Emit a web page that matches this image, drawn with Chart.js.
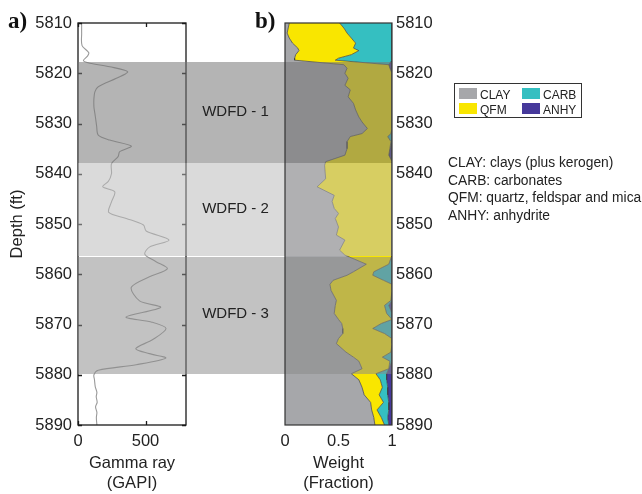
<!DOCTYPE html>
<html>
<head>
<meta charset="utf-8">
<script src="https://cdn.jsdelivr.net/npm/chart.js@4.4.1/dist/chart.umd.min.js"></script>
<style>
body{margin:0;background:#fff;}
#wrap{position:relative;width:642px;height:494px;background:#fff;font-family:"Liberation Sans",Arial,sans-serif;color:#222;overflow:hidden;}
#wrap canvas{position:absolute;left:0;top:0;}
.tag{position:absolute;top:9px;font-family:"Liberation Serif","Times New Roman",serif;font-weight:bold;font-size:23px;line-height:23px;color:#111;}
#legend{position:absolute;left:454px;top:83px;width:128px;height:35px;border:1px solid #333;box-sizing:border-box;font-size:12px;line-height:12px;background:#fff;}
#legend .sw{position:absolute;width:18px;height:11px;}
#legend .tx{position:absolute;}
#notes{position:absolute;left:448px;top:154px;font-size:13.8px;line-height:17.6px;}
</style>
</head>
<body>
<div id="wrap">
  <canvas id="gr" width="642" height="494"></canvas>
  <canvas id="min" width="642" height="494"></canvas>
  <div class="tag" style="left:8px">a)</div>
  <div class="tag" style="left:255px">b)</div>
  <div id="legend"></div>
  <div id="notes">
    CLAY: clays (plus kerogen)<br>
    CARB: carbonates<br>
    QFM: quartz, feldspar and mica<br>
    ANHY: anhydrite
  </div>
</div>
<script>
// ----------------- Data -----------------
// gamma ray log (GAPI) against depth (ft)
const grDepth=[5810,5812,5814.5,5815.9,5816.6,5817.5,5818,5818.7,5819.7,5821,5822.7,5823.7,5825,5826.7,5828,5829.3,5830.5,5832.3,5833.3,5834.5,5835.6,5836.6,5838,5840,5841.5,5842.6,5843.6,5845.6,5847.7,5848.9,5850.2,5851.4,5853.2,5854.6,5856,5857.5,5858.9,5860.5,5862.6,5865.3,5866.6,5868.5,5869.5,5870.8,5873,5874.8,5875.8,5876.7,5878,5879.1,5880,5881,5882.4,5883.5,5884.4,5885.5,5886.4,5887.5,5888.5,5890];
const grValue=[27,27,30,80,70,40,88,235,368,284,150,125,118,118,125,132,138,150,235,395,309,297,248,248,225,183,272,248,228,358,485,505,674,529,495,578,662,529,395,456,612,356,542,652,554,428,529,650,431,150,118,122,128,140,135,142,130,140,136,140];
const grTicks=[0,500];

// mineral weights (fraction) against depth (ft)
const minDepth=[5810,5811,5812,5813,5814,5815,5815.5,5816.3,5817,5817.4,5818.3,5819,5820,5821,5822.4,5823.3,5824.7,5826,5827.3,5828.7,5829.7,5831,5832,5832.6,5833.6,5835,5836.3,5837.6,5838.3,5841,5842.6,5844.3,5845.5,5846.9,5847.9,5848.9,5850.6,5852.2,5853.2,5855.2,5856.2,5858,5859.5,5860.2,5861.2,5862,5863.2,5865.2,5866.2,5867.8,5869,5869.8,5870.8,5871.8,5872.8,5873.8,5875.5,5876.5,5877.3,5878.8,5879.8,5881,5882.5,5884,5885.5,5887,5888.5,5890];
const clay=[0.04,0.03,0.02,0.04,0.07,0.12,0.13,0.10,0.09,0.09,0.55,0.58,0.56,0.59,0.56,0.61,0.59,0.64,0.66,0.69,0.72,0.77,0.72,0.61,0.58,0.58,0.56,0.38,0.37,0.38,0.30,0.46,0.44,0.46,0.50,0.47,0.50,0.48,0.56,0.51,0.56,0.76,0.64,0.58,0.45,0.42,0.43,0.48,0.47,0.46,0.50,0.53,0.54,0.54,0.50,0.48,0.57,0.64,0.69,0.72,0.62,0.69,0.72,0.74,0.80,0.81,0.83,0.84];
const qfm=[0.47,0.52,0.56,0.58,0.59,0.52,0.56,0.52,0.41,0.38,0.42,0.40,0.44,0.41,0.44,0.39,0.41,0.36,0.34,0.31,0.28,0.23,0.27,0.35,0.41,0.40,0.41,0.62,0.63,0.62,0.70,0.54,0.56,0.54,0.50,0.53,0.50,0.52,0.44,0.49,0.44,0.21,0.19,0.24,0.47,0.58,0.57,0.51,0.46,0.49,0.50,0.37,0.28,0.39,0.50,0.52,0.42,0.27,0.29,0.25,0.23,0.20,0.19,0.14,0.12,0.05,0.07,0.09];
const carb=[0.49,0.45,0.42,0.38,0.34,0.36,0.31,0.38,0.50,0.53,0,0,0,0,0,0,0,0,0,0,0,0,0.01,0.04,0.01,0,0,0,0,0,0,0,0,0,0,0,0,0,0,0,0,0.03,0.17,0.18,0.08,0,0,0.01,0.04,0.05,0,0.10,0.18,0.07,0,0,0.01,0.09,0.02,0,0.10,0.06,0.05,0.08,0.05,0.11,0.06,0.04];
const anhy=[0,0,0,0,0,0,0,0,0,0,0.03,0.02,0,0,0,0,0,0,0,0,0,0,0,0,0,0.02,0.03,0,0,0,0,0,0,0,0,0,0,0,0,0,0,0,0,0,0,0,0,0,0.03,0,0,0,0,0,0,0,0,0,0,0.03,0.05,0.05,0.04,0.04,0.03,0.03,0.04,0.03];
const minTicks=[0,0.5,1];

// WDFD intervals (ft)
const bandNames=["WDFD - 1","WDFD - 2","WDFD - 3"];
const bandTop=[5817.8,5837.9,5856.5];
const bandBase=[5837.9,5856.3,5879.8];
const bandColors=["rgba(118,118,118,0.55)","rgba(185,185,185,0.53)","rgba(138,138,138,0.52)"];

const depthTicks=[5810,5890,10];

const minNames=["CLAY","QFM","CARB","ANHY"];
const minColors=["#a6a7aa","#f9e600","#35bfc1","#46399b"];

// ----------------- Shared bits -----------------
const FONT="'Liberation Sans', Arial, sans-serif";
const tickFont={family:FONT,size:16.5};
const txt="#222";

// box + inward tick marks like the original plotting tool
const frame={
  id:"frame",
  afterDatasetsDraw(c,args,o){
    const a=c.chartArea, ctx=c.ctx;
    ctx.save();
    ctx.strokeStyle=o.color||"#222";
    ctx.lineWidth=o.width||1.2;
    if(o.ticks){
      const len=4;
      c.scales.y.ticks.forEach(t=>{
        const py=Math.round(c.scales.y.getPixelForValue(t.value))+0.5;
        ctx.beginPath();
        ctx.moveTo(a.left,py);ctx.lineTo(a.left+len,py);
        ctx.moveTo(a.right,py);ctx.lineTo(a.right-len,py);
        ctx.stroke();
      });
      c.scales.x.ticks.forEach(t=>{
        const px=Math.round(c.scales.x.getPixelForValue(t.value))+0.5;
        ctx.beginPath();
        ctx.moveTo(px,a.top);ctx.lineTo(px,a.top+len);
        ctx.moveTo(px,a.bottom);ctx.lineTo(px,a.bottom-len);
        ctx.stroke();
      });
    }
    ctx.strokeRect(a.left,a.top,a.right-a.left,a.bottom-a.top);
    ctx.restore();
  }
};

function depthScale(pos,pad){
  return {
    type:"linear",position:pos,reverse:true,min:depthTicks[0],max:depthTicks[1],
    grid:{display:false,drawTicks:false},border:{display:false},
    ticks:{stepSize:depthTicks[2],padding:pad,font:tickFont,color:txt,callback:v=>String(v)}
  };
}

// ----------------- a) Gamma ray -----------------
const grY=depthScale("left",6);
grY.title={display:true,text:"Depth (ft)",font:{family:FONT,size:16.5},color:txt,padding:{top:4,bottom:4}};
grY.afterFit=s=>{s.width=74;};

const leftChart=new Chart(document.getElementById("gr"),{
  type:"line",
  data:{datasets:[{
    data:grDepth.map((d,i)=>({x:grValue[i],y:d})),
    borderColor:"#9a9a9a",borderWidth:1.1,pointRadius:0,tension:0.3,fill:false
  }]},
  options:{
    indexAxis:"y",responsive:false,animation:false,
    layout:{padding:{left:4,top:23,right:456,bottom:0}},
    plugins:{legend:{display:false},tooltip:{enabled:false},frame:{ticks:true,color:"#1a1a1a",width:1.3}},
    scales:{
      y:grY,
      x:{
        type:"linear",min:0,max:800,
        grid:{display:false,drawTicks:false},border:{display:false},
        afterBuildTicks:s=>{s.ticks=grTicks.map(v=>({value:v}));},
        ticks:{padding:7,font:tickFont,color:txt,callback:v=>String(v)},
        title:{display:true,text:["Gamma ray","(GAPI)"],font:{family:FONT,size:16.5},color:txt,padding:{top:4,bottom:1}},
        afterFit:s=>{s.height=69;}
      }
    }
  },
  plugins:[frame]
});

// ----------------- b) Mineral weights -----------------
const bands={
  id:"bands",
  afterDatasetsDraw(c){
    const y=c.scales.y, ctx=c.ctx, la=leftChart.chartArea, a=c.chartArea;
    ctx.save();
    bandTop.forEach((t,i)=>{
      const y0=y.getPixelForValue(t), y1=y.getPixelForValue(bandBase[i]);
      ctx.fillStyle=bandColors[i];
      ctx.fillRect(la.left,Math.round(y0),a.right-la.left,Math.round(y1)-Math.round(y0));
    });
    ctx.fillStyle=txt;
    ctx.font="15px "+FONT;
    ctx.textAlign="center";ctx.textBaseline="middle";
    bandTop.forEach((t,i)=>{
      const yc=(y.getPixelForValue(t)+y.getPixelForValue(bandBase[i]))/2;
      ctx.fillText(bandNames[i],(la.right+a.left)/2,yc-1);
    });
    ctx.restore();
  }
};

const minY=depthScale("right",4);
minY.afterFit=s=>{s.width=250;};

const series=[clay,qfm,carb,anhy];
new Chart(document.getElementById("min"),{
  type:"line",
  data:{datasets:series.map((vals,k)=>({
    label:minNames[k],
    data:minDepth.map((d,i)=>({x:vals[i],y:d})),
    backgroundColor:minColors[k],
    borderColor:"#3c3c3c",borderWidth:0.7,pointRadius:0,tension:0,
    fill:k===0?"origin":"-1"
  }))},
  options:{
    indexAxis:"y",responsive:false,animation:false,
    layout:{padding:{left:285,top:23,right:0,bottom:0}},
    plugins:{legend:{display:false},tooltip:{enabled:false},frame:{ticks:false,color:"#333",width:1.2}},
    scales:{
      y:minY,
      x:{
        type:"linear",min:0,max:1,stacked:true,
        grid:{display:false,drawTicks:false},border:{display:false},
        afterBuildTicks:s=>{s.ticks=minTicks.map(v=>({value:v}));},
        ticks:{padding:7,font:tickFont,color:txt,callback:v=>String(v)},
        title:{display:true,text:["Weight","(Fraction)"],font:{family:FONT,size:16.5},color:txt,padding:{top:4,bottom:1}},
        afterFit:s=>{s.height=69;}
      }
    }
  },
  plugins:[bands,frame]
});

// ----------------- Legend -----------------
const legend=document.getElementById("legend");
const legendOrder=[0,2,1,3]; // CLAY CARB / QFM ANHY
legendOrder.forEach((k,n)=>{
  const col=n%2, row=Math.floor(n/2);
  const sw=document.createElement("div");
  sw.className="sw";
  sw.style.background=minColors[k];
  sw.style.left=(4+col*63)+"px";
  sw.style.top=(4+row*15)+"px";
  legend.appendChild(sw);
  const tx=document.createElement("div");
  tx.className="tx";
  tx.innerText=minNames[k];
  tx.style.left=(25+col*63)+"px";
  tx.style.top=(5+row*15)+"px";
  legend.appendChild(tx);
});
</script>
</body>
</html>
